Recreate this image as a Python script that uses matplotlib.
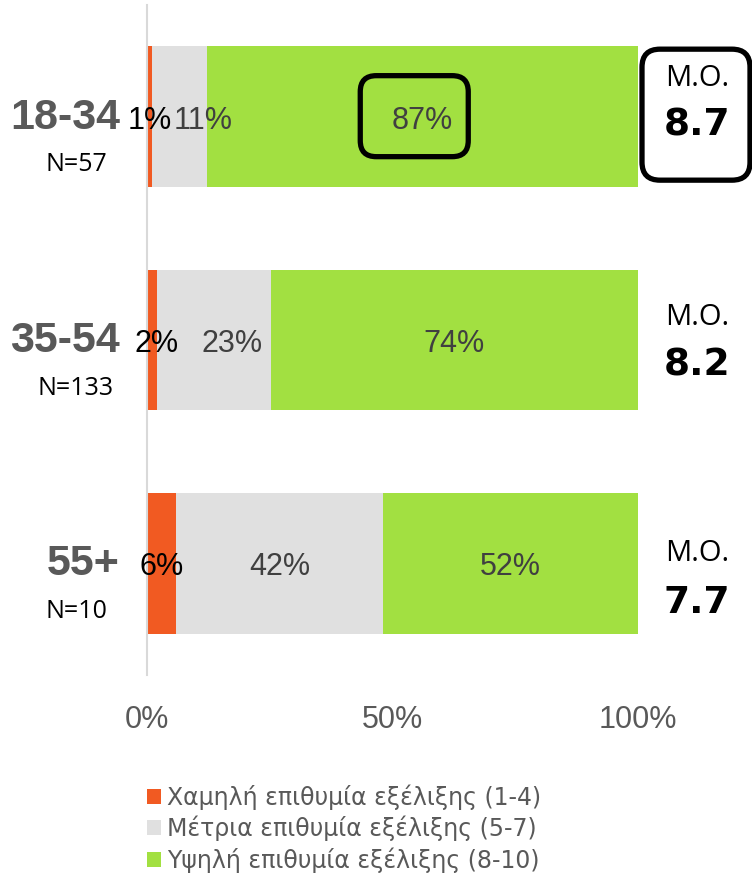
import matplotlib
matplotlib.use("Agg")
import matplotlib.pyplot as plt
import matplotlib.transforms as mtrans
from matplotlib.patches import FancyBboxPatch, Patch
import numpy as np

# ---- data ----
groups = ["18-34", "35-54", "55+"]
n_labels = ["N=57", "N=133", "N=10"]
low = [1, 2, 6]
mid = [11, 23, 42]
high = [87, 74, 52]
means = ["8.7", "8.2", "7.7"]
series_names = ["Χαμηλή επιθυμία εξέλιξης (1-4)",
                "Μέτρια επιθυμία εξέλιξης (5-7)",
                "Υψηλή επιθυμία εξέλιξης (8-10)"]
xticks = [0, 50, 100]
xtick_labels = ["0%", "50%", "100%"]

colors = ["#F15A22", "#E0E0E0", "#A2E041"]
label_colors = ["black", "#404040", "#404040"]
GRAY = "#595959"

fig = plt.figure(figsize=(7.52, 8.8), dpi=100)
W, H = 752, 880
ax = fig.add_axes([147 / W, 1 - 675 / H, 491 / W, 670 / H])

vals = np.array([low, mid, high], dtype=float)
totals = vals.sum(axis=0)
norm = vals / totals * 100
ypos = np.arange(len(groups))
left = np.zeros(len(groups))
for k in range(3):
    ax.barh(ypos, norm[k], left=left, height=0.63, color=colors[k],
            edgecolor="none", label=series_names[k], zorder=2)
    left = left + norm[k]

ax.set_xlim(0, 100)
ax.set_ylim(len(groups) - 0.5, -0.5)
for s in ["top", "right", "bottom"]:
    ax.spines[s].set_visible(False)
ax.spines["left"].set_color("#D9D9D9")
ax.spines["left"].set_linewidth(1.5)
ax.set_yticks([])
ax.set_xticks(xticks)
ax.set_xticklabels(xtick_labels, fontfamily="Liberation Sans", fontsize=22,
                   color=GRAY)
ax.tick_params(axis="x", length=0, pad=21.5)


def pts(p):
    return p * 0.72  # pixels -> points at 100 dpi


# bar value labels
nudges = [[0, 5, 0], [24, 18, 0], [0, 0, 0]]
starts = np.vstack([np.zeros(len(groups)), np.cumsum(norm, axis=0)[:-1]])
for k in range(3):
    for i in range(len(groups)):
        cx = starts[k][i] + norm[k][i] / 2
        ax.annotate(f"{vals[k][i]:.0f}%", (cx, ypos[i]),
                    xytext=(pts(nudges[k][i]), pts(-4)), textcoords="offset points",
                    ha="center", va="center", fontsize=22,
                    fontfamily="Liberation Sans", color=label_colors[k],
                    zorder=4, annotation_clip=False)

# highlight box around 87%
cx87 = starts[2][0] + norm[2][0] / 2
tr = fig.dpi_scale_trans + mtrans.ScaledTranslation(cx87, ypos[0], ax.transData)
box = FancyBboxPatch((-0.62, -0.40), 1.08, 0.81,
                     boxstyle="round,pad=0,rounding_size=0.16",
                     fc="none", ec="black", lw=3.8, transform=tr, zorder=5,
                     clip_on=False)
fig.add_artist(box)

# category labels
blend = mtrans.blended_transform_factory(ax.transAxes, ax.transData)
for i, g in enumerate(groups):
    ax.annotate(g, (-27 / 491, ypos[i]), xycoords=blend,
                xytext=(0, pts(-1)), textcoords="offset points",
                ha="right", va="center", fontsize=31, fontweight="bold",
                fontfamily="Liberation Sans", color=GRAY, annotation_clip=False)
    ax.annotate(n_labels[i], (-71 / 491, ypos[i]), xycoords=blend,
                xytext=(0, pts(-48)), textcoords="offset points",
                ha="center", va="center", fontsize=18,
                fontfamily="Open Sans", color="black", annotation_clip=False)

# mean labels
mo_dy = [38, 23, 10]
val_dy = [-9, -25, -40]
for i, m in enumerate(means):
    ax.annotate("M.O.", (1.0, ypos[i]), xycoords=blend,
                xytext=(pts(59), pts(mo_dy[i])), textcoords="offset points",
                ha="center", va="center", fontsize=21,
                fontfamily="Open Sans", color="black", annotation_clip=False)
    ax.annotate(m, (1.0, ypos[i]), xycoords=blend,
                xytext=(pts(59), pts(val_dy[i])), textcoords="offset points",
                ha="center", va="center", fontsize=27, fontweight="bold",
                fontfamily="DejaVu Sans", color="black", annotation_clip=False)

# box around first mean
trm = fig.dpi_scale_trans + mtrans.ScaledTranslation(1.0, ypos[0], blend)
mbox = FancyBboxPatch((0.04, -0.635), 1.08, 1.31,
                      boxstyle="round,pad=0,rounding_size=0.18",
                      fc="none", ec="black", lw=3.8, transform=trm, zorder=5,
                      clip_on=False)
fig.add_artist(mbox)

# legend
handles = [Patch(facecolor=c, edgecolor="none") for c in colors]
leg = fig.legend(handles, series_names, loc="upper left",
                 bbox_to_anchor=(147 / W, 1 - 784 / H), frameon=False,
                 prop={"family": "DejaVu Sans", "size": 17},
                 handlelength=0.6, handleheight=0.6, handletextpad=0.25,
                 labelspacing=0.26, borderaxespad=0, borderpad=0)
for t in leg.get_texts():
    t.set_color(GRAY)

fig.savefig("out.png", dpi=100)
